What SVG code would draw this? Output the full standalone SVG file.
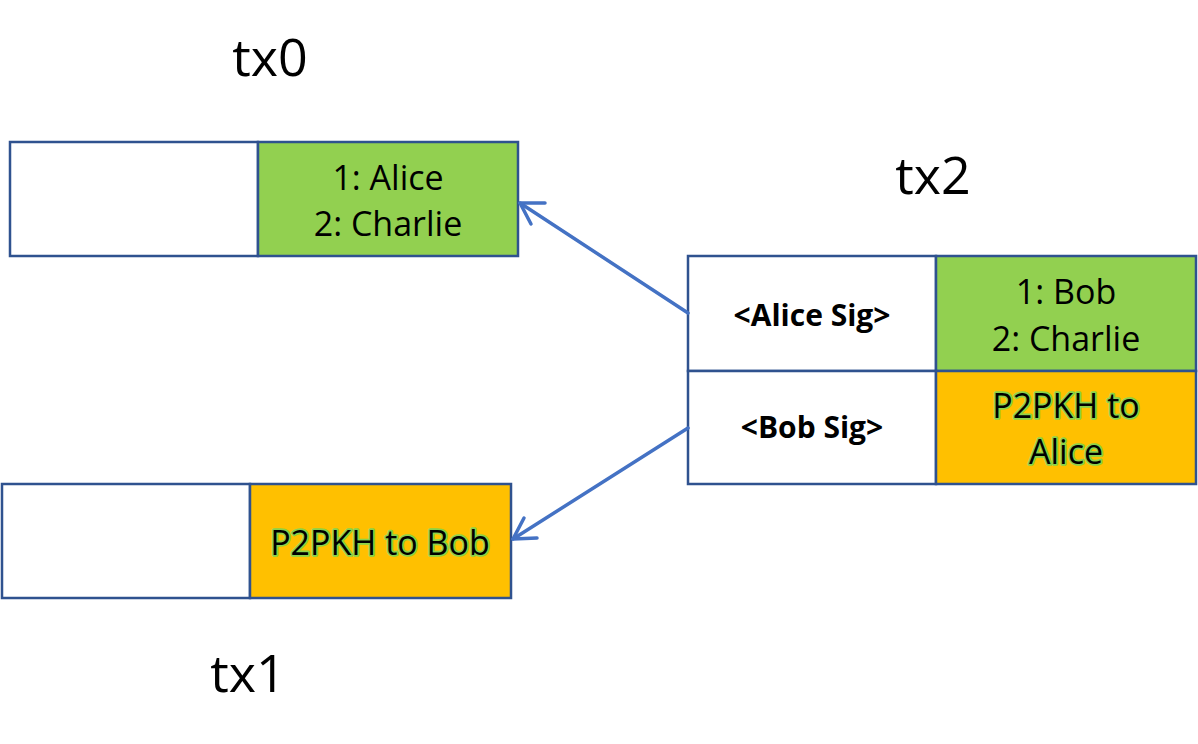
<svg xmlns="http://www.w3.org/2000/svg" width="1198" height="744" viewBox="0 0 1198 744">
<defs>
<style>
.box{stroke:#2F528F;stroke-width:2.5}
.w{fill:#FFFFFF}
.g{fill:#92D050}
.o{fill:#FFC000}
.t{font-family:"Open Sans","Noto Sans","Liberation Sans",sans-serif;font-size:34px;fill:#000;text-anchor:middle}
.b{font-family:"Open Sans","Noto Sans","Liberation Sans",sans-serif;font-size:30px;font-weight:bold;fill:#000;text-anchor:middle}
.glow{stroke:#8CD24A;stroke-width:3.5;paint-order:stroke;stroke-linejoin:round}
.lbl{font-family:"Open Sans","Noto Sans","Liberation Sans",sans-serif;font-size:52px;fill:#000;text-anchor:middle}
.c{stroke:#4472C4;stroke-width:3.5;fill:none;stroke-linecap:round;stroke-linejoin:round}
</style>
</defs>
<rect width="1198" height="744" fill="#FFFFFF"/>
<g id="tx0">
<rect class="box w" x="10" y="142" width="248" height="114"/>
<rect class="box g" x="258" y="142" width="260" height="114"/>
<text class="t" x="388" y="190">1: Alice</text>
<text class="t" x="388" y="236">2: Charlie</text>
<text class="lbl" x="270" y="76">tx0</text>
</g>
<g id="tx1">
<rect class="box w" x="2" y="484" width="248" height="114"/>
<rect class="box o" x="250" y="484" width="261" height="114"/>
<text class="t glow" x="380" y="555">P2PKH to Bob</text>
<text class="lbl" x="248" y="692">tx1</text>
</g>
<g id="tx2">
<rect class="box w" x="688" y="256" width="248" height="115"/>
<rect class="box g" x="936" y="256" width="260" height="115"/>
<rect class="box w" x="688" y="371" width="248" height="113"/>
<rect class="box o" x="936" y="371" width="260" height="113"/>
<text class="b" x="812" y="326">&lt;Alice Sig&gt;</text>
<text class="b" x="812" y="438">&lt;Bob Sig&gt;</text>
<text class="t" x="1066" y="304">1: Bob</text>
<text class="t" x="1066" y="351">2: Charlie</text>
<text class="t glow" x="1066" y="418">P2PKH to</text>
<text class="t glow" x="1066" y="464">Alice</text>
<text class="lbl" x="933" y="194">tx2</text>
</g>
<g id="connectors">
<path class="c" d="M688,313 L520,203"/>
<path class="c" d="M545,203 L520,203 L531,224"/>
<path class="c" d="M688,428 L513,539"/>
<path class="c" d="M524,518 L513,539 L537,538"/>
</g>
</svg>
